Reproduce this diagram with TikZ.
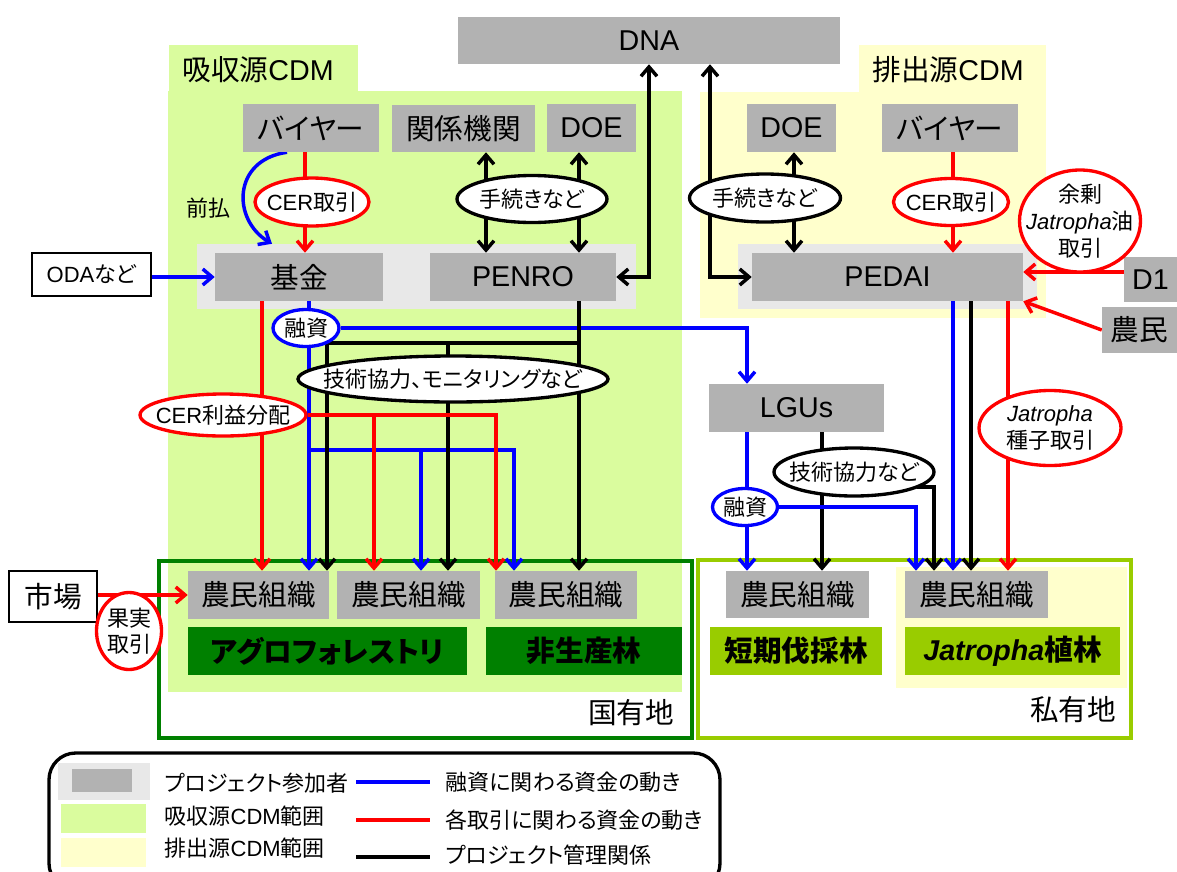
\documentclass[tikz,border=0pt]{standalone}
\usepackage{fontspec}
\setmainfont{Liberation Sans}
\newfontfamily\jp[RawFeature=+palt]{Noto Sans CJK JP}
\usetikzlibrary{arrows.meta,shapes.geometric,calc}
\definecolor{boxgray}{RGB}{178,178,178}
\definecolor{bandgray}{RGB}{232,232,232}
\definecolor{absgreen}{RGB}{218,252,158}
\definecolor{emiyel}{RGB}{255,255,204}
\definecolor{dkgreen}{RGB}{0,128,0}
\definecolor{olivegr}{RGB}{153,204,0}
\pgfdeclarelayer{bg}\pgfdeclarelayer{ln}\pgfsetlayers{bg,ln,main}
\newcommand\J[1]{{\jp #1}}
\newcommand\fbig{\fontsize{21.5pt}{24pt}\selectfont}
\newcommand\fsm{\fontsize{16.5pt}{20pt}\selectfont}
\newcommand\bx[7]{\node[#1, minimum width={(#5-#3)*0.75pt}, minimum height={(#6-#4)*0.75pt}] (#2) at ({(#3+#5)/2},{(#4+#6)/2}) {#7};}
\newcommand\el[7]{\node[ell,#1, minimum width={#5*0.75pt}, minimum height={#6*0.75pt}, label={[lbl]center:#7}] (#2) at (#3,#4) {};}
\begin{document}
\begin{tikzpicture}[x=0.75pt,y=-0.75pt,
  gbox/.style={fill=boxgray, inner sep=0pt, font=\fbig},
  bandbox/.style={fill=bandgray, inner sep=0pt},
  wbox/.style={draw=black, line width=2.2pt, fill=white, inner sep=0pt},
  ell/.style={ellipse, draw, line width=2.5pt, fill=white, inner sep=0pt},
  lbl/.style={font=\fsm, align=center, inner sep=0pt},
  conn/.style={line width=2.6pt},
  ar/.style={conn,-{Straight Barb[length=7pt,width=12pt]}},
  dar/.style={conn,{Straight Barb[length=7pt,width=12pt]}-{Straight Barb[length=7pt,width=12pt]}},
]
\useasboundingbox (0,0) rectangle (1177,871);

% ---------- background regions ----------
\begin{pgfonlayer}{bg}
\fill[absgreen] (169,45) rectangle (358,93);
\fill[absgreen] (168,91) rectangle (682,692);
\fill[emiyel] (859,45) rectangle (1046,93);
\fill[emiyel] (700,92) rectangle (1046,318);
\draw[dkgreen, line width=3.2pt] (159,561) rectangle (692,738);
\draw[olivegr, line width=3.2pt] (698,560) rectangle (1131,738);
\fill[emiyel] (896,567) rectangle (1127,688);
\bx{bandbox}{bandL}{197}{244}{636}{309}{}
\bx{bandbox}{bandR}{738}{244}{1037}{309}{}
\end{pgfonlayer}

% ---------- boxes ----------
\bx{gbox}{dna}{458}{17}{840}{64}{DNA}
\bx{gbox}{buyerL}{243}{104}{379}{152}{\J{バイヤー}}
\bx{gbox}{kankei}{392}{105}{535}{152}{\J{関係機関}}
\bx{gbox}{doeL}{547}{104}{636}{152}{DOE}
\bx{gbox}{doeR}{747}{104}{836}{152}{DOE}
\bx{gbox}{buyerR}{882}{104}{1018}{152}{\J{バイヤー}}
\bx{gbox}{kikin}{215}{253}{383}{301}{\J{基金}}
\bx{gbox}{penro}{430}{253}{616}{301}{PENRO}
\bx{gbox}{pedai}{752}{253}{1023}{301}{PEDAI}
\bx{gbox}{d1}{1124}{257}{1177}{302}{D1}
\bx{gbox}{noumin}{1102}{307}{1177}{353}{\J{農民}}
\bx{wbox,font=\fsm}{oda}{32}{253}{151}{296}{ODA\J{など}}
\bx{gbox}{lgu}{709}{384}{884}{432}{LGUs}
\bx{wbox,font=\fbig}{ichiba}{9}{571}{97}{622}{\J{市場}}
\bx{gbox}{farm1}{188}{571}{329}{619}{\J{農民組織}}
\bx{gbox}{farm2}{337}{571}{480}{619}{\J{農民組織}}
\bx{gbox}{farm3}{495}{571}{637}{619}{\J{農民組織}}
\bx{gbox}{farmR1}{726}{571}{869}{618}{\J{農民組織}}
\bx{gbox}{farmR2}{905}{571}{1048}{618}{\J{農民組織}}
\bx{gbox,fill=dkgreen,font=\fbig\bfseries}{agro}{188}{627}{467}{675}{\J{アグロフォレストリ}}
\bx{gbox,fill=dkgreen,font=\fbig\bfseries}{hisei}{486}{627}{682}{675}{\J{非生産林}}
\bx{gbox,fill=olivegr,font=\fbig\bfseries}{tanki}{710}{627}{882}{675}{\J{短期伐採林}}
\bx{gbox,fill=olivegr,font=\fbig\bfseries}{jat}{905}{627}{1120}{675}{\textit{Jatropha}\J{植林}}

% ---------- ellipses ----------
\el{draw=red}{cerL}{312}{202}{114}{48}{CER\J{取引}}
\el{}{tetL}{532}{199}{150}{47}{\J{手続きなど}}
\el{draw=blue}{yushi1}{306}{328}{66}{37}{\J{融資}}
\el{}{gij1}{453}{379}{310}{46}{\J{技術協力、モニタリングなど}}
\el{draw=red}{cerp}{223}{415}{166}{42}{CER\J{利益分配}}
\el{}{tetR}{765}{198}{151}{48}{\J{手続きなど}}
\el{draw=red}{cerR}{951}{202}{115}{47}{CER\J{取引}}
\el{draw=red}{yojo}{1080}{221}{121}{102}{\J{余剰}\\\textit{Jatropha}\J{油}\\\J{取引}}
\el{draw=red}{jatsh}{1050}{428}{142}{75}{\textit{Jatropha}\\\J{種子取引}}
\el{}{gij2}{854}{472}{160}{48}{\J{技術協力など}}
\el{draw=blue}{yushi2}{745}{507}{65}{37}{\J{融資}}
\el{draw=red}{kaji}{129}{631}{65}{77}{\J{果実}\\\J{取引}}

% ---------- free texts ----------
\node[font=\fsm] (maebarai) at (208,208) {\J{前払}};
\node[font=\fbig] (tAbs) at (258,70) {\J{吸収源}CDM};
\node[font=\fbig] (tEmi) at (948,70) {\J{排出源}CDM};
\node[font=\fbig] (tKoku) at (631,713) {\J{国有地}};
\node[font=\fbig] (tShi) at (1073,710) {\J{私有地}};

% ---------- helper coordinates ----------
\foreach \xx in {262,272,287,305,309,327,374,421,448,486,496,514,579,649,710,747,794,822,916,934,953,971,1008}
  {\coordinate (x\xx) at (\xx,0);}
\coordinate (y272) at (0,272);
\coordinate (b450) at (309,450);
\coordinate (k343) at (579,343);
\coordinate (e487) at (917,487);

% ---------- connectors ----------
\begin{pgfonlayer}{ln}
% top left
\draw[ar,blue] (buyerL.south -| x287) .. controls (232,160) and (232,220) .. (bandL.north -| x272);
\draw[ar,red] (buyerL.south -| x305) -- (kikin.north -| x305);
\draw[ar,blue] (kikin.west -| oda.east) -- (kikin.west);
\draw[dar] (kankei.south -| x486) -- (penro.north -| x486);
\draw[dar] (doeL.south -| x579) -- (penro.north -| x579);
\draw[dar] (dna.south -| x649) |- (penro.east);
\draw[dar] (dna.south -| x710) |- (pedai.west);
% top right
\draw[dar] (doeR.south -| x794) -- (pedai.north -| x794);
\draw[ar,red] (buyerR.south -| x953) -- (pedai.north -| x953);
\draw[ar,red] (d1.west |- y272) -- (pedai.east |- y272);
\draw[ar,red] (noumin.west) -- (pedai.south east);
% middle left
\draw[ar,red] (kikin.south -| x262) -- (farm1.north -| x262);
\draw[ar,blue] (kikin.south -| x309) -- (farm1.north -| x309);
\draw[ar,blue] (yushi1.east) -| (lgu.north -| x747);
\draw[ar,blue] (b450) -| (farm3.north -| x514);
\draw[ar,blue] (b450 -| x421) -- (farm2.north -| x421);
\draw[ar] (penro.south -| x579) -- (farm3.north -| x579);
\draw[ar] (k343) -| (farm1.north -| x327);
\draw[ar] (k343 -| x448) -- (farm2.north -| x448);
\draw[ar,red] (cerp.east) -| (farm3.north -| x496);
\draw[ar,red] (cerp.east -| x374) -- (farm2.north -| x374);
\draw[ar,red] (ichiba.east |- farm1.west) -- (farm1.west);
% right
\draw[ar,blue] (lgu.south -| x747) -- (farmR1.north -| x747);
\draw[ar] (lgu.south -| x822) -- (farmR1.north -| x822);
\draw[ar] (e487) -| (farmR2.north -| x934);
\draw[ar,blue] (yushi2.east) -| (farmR2.north -| x916);
\draw[ar,blue] (pedai.south -| x953) -- (farmR2.north -| x953);
\draw[ar] (pedai.south -| x971) -- (farmR2.north -| x971);
\draw[ar,red] (pedai.south -| x1008) -- (farmR2.north -| x1008);
\end{pgfonlayer}

% ---------- legend ----------
\draw[line width=2.5pt, rounded corners=20pt] (49,753) rectangle (720,890);
\fill[bandgray] (58,763) rectangle (150,800);
\fill[boxgray] (72,769) rectangle (132,792);
\fill[absgreen] (61,804) rectangle (146,833);
\fill[emiyel] (61,838) rectangle (146,867);
\node[anchor=west,font=\fsm] (lg1) at (160,783) {\J{プロジェクト参加者}};
\node[anchor=west,font=\fsm] (lg2) at (160,816) {\J{吸収源}CDM\J{範囲}};
\node[anchor=west,font=\fsm] (lg3) at (160,848) {\J{排出源}CDM\J{範囲}};
\draw[conn,blue] (356,782) -- (430,782);
\draw[conn,red] (356,820) -- (430,820);
\draw[conn] (356,857) -- (430,857);
\node[anchor=west,font=\fsm] (lg4) at (441,782) {\J{融資に関わる資金の動き}};
\node[anchor=west,font=\fsm] (lg5) at (441,820) {\J{各取引に関わる資金の動き}};
\node[anchor=west,font=\fsm] (lg6) at (441,855) {\J{プロジェクト管理関係}};
\end{tikzpicture}
\end{document}
